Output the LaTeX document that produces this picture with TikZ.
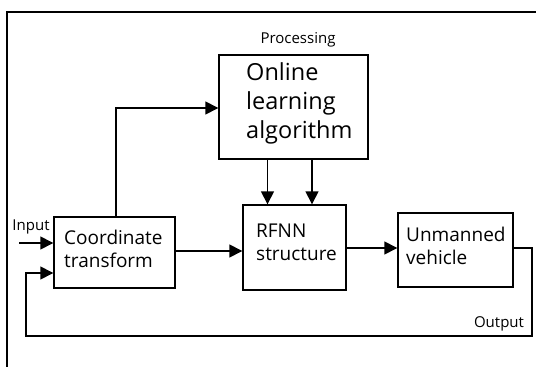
\documentclass[tikz,border=0pt]{standalone}
\usepackage{fontspec}
\setmainfont{Open Sans}
\usetikzlibrary{arrows.meta}
\begin{document}
\begin{tikzpicture}[x=1pt,y=-1pt,
  box/.style={draw, line width=1.4pt, inner sep=0pt},
  big/.style={font=\fontsize{23.5}{29}\selectfont, align=left, inner sep=0pt, anchor=west},
  mid/.style={font=\fontsize{19}{23}\selectfont, align=left, inner sep=0pt, anchor=west},
  small/.style={font=\fontsize{15}{18}\selectfont, inner sep=0pt},
  arr/.style={line width=1.5pt, -{Triangle[length=13pt,width=13pt]}},
  ln/.style={line width=1.4pt}]
\useasboundingbox (0,0) rectangle (536,367);
% frame
\coordinate (f1) at (536,12);
\coordinate (f2) at (7,12);
\coordinate (f3) at (7,367);
\draw[ln] (f1) -- (f2) -- (f3);
% boxes
\node[box, minimum width=149pt, minimum height=104pt] (ol) at (293.5,107) {};
\node[box, minimum width=121pt, minimum height=71pt] (ct) at (114.5,252.5) {};
\node[box, minimum width=103pt, minimum height=85pt] (rf) at (294.5,247.5) {};
\node[box, minimum width=115pt, minimum height=74pt] (uv) at (455.5,250) {};
% texts
\node[big] (olt) at (246,103.5) {Online\\learning\\algorithm};
\node[mid] (ctt) at (64,248.5) {Coordinate\\transform};
\node[mid] (rft) at (256,242) {RFNN\\structure};
\node[mid] (uvt) at (406,246) {Unmanned\\vehicle};
\node[small] (proc) at (298,40) {Processing};
\node[small] (inl) at (31,227) {Input};
\node[small] (outl) at (499,324) {Output};
% connectors
\coordinate (inS) at (19,243);
\draw[arr] (inS) -- (inS -| ct.west);
\coordinate (fb1) at (532,336);
\coordinate (fb2) at (26,273);
\draw[arr] ([yshift=2pt]uv.east) -| (fb1) -| (fb2) -- (fb2 -| ct.west);
\draw[arr] ([xshift=1.5pt]ct.north) |- ([yshift=-1pt]ol.west);
\draw[arr] ([xshift=-26pt]ol.south) -- ([xshift=-26pt]ol.south |- rf.north);
\draw[arr] ([xshift=18.5pt]ol.south) -- ([xshift=18.5pt]ol.south |- rf.north);
\draw[arr] ([yshift=1.5pt]ct.east) -- ([yshift=1.5pt]ct.east -| rf.west);
\draw[arr] ([yshift=-0.5pt]rf.east) -- ([yshift=-0.5pt]rf.east -| uv.west);
\end{tikzpicture}
\end{document}
